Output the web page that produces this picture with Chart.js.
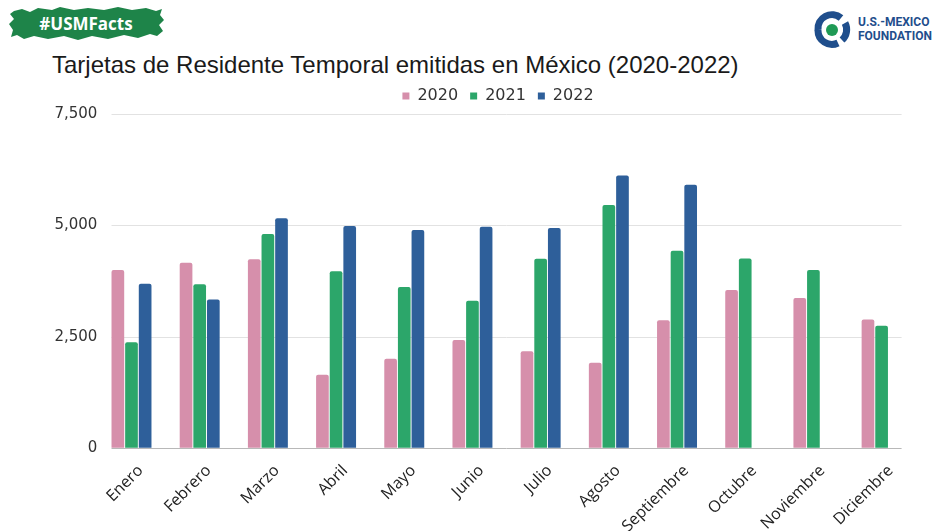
<!DOCTYPE html>
<html lang="es">
<head>
<meta charset="utf-8">
<title>Tarjetas de Residente Temporal</title>
<script src="https://cdn.jsdelivr.net/npm/chart.js@4.4.1/dist/chart.umd.min.js"></script>
<style>
  html, body { margin: 0; padding: 0; background: #fff; }
  #page { position: relative; width: 938px; height: 531px; overflow: hidden; }
  #badge { position: absolute; left: 8px; top: 6px; }
  #logo { position: absolute; left: 812px; top: 10px; }
  #logo-text {
    position: absolute; left: 858px; top: 15px;
    font: bold 12px Roboto, sans-serif; line-height: 14px;
    color: #1f4e8c;
  }
  #title {
    position: absolute; left: 52px; top: 51px;
    font: 24px "Liberation Sans", Arial, sans-serif; color: #1a1a1a;
    white-space: nowrap;
  }
  #chart { position: absolute; left: 50px; top: 76px; }
</style>
</head>
<body>
<div id="page">
  <svg id="badge" width="160" height="36" viewBox="0 0 160 36">
    <path fill="#1e8449" d="M6 5 L14 3 L22 6 L30 2 L44 4 L52 1 L66 4 L80 2 L96 4 L110 1 L124 4 L138 2 L148 5 L154 3 L152 9 L156 14 L151 19 L155 25 L149 30 L142 28 L130 32 L116 29 L100 33 L84 30 L70 34 L56 30 L40 33 L26 30 L16 33 L9 29 L3 31 L5 24 L1 18 L6 13 L2 8 Z"/>
    <text x="78" y="23.5" text-anchor="middle" fill="#fff"
          font-family="Open Sans, sans-serif" font-weight="bold" font-size="17">#USMFacts</text>
  </svg>
  <svg id="logo" width="40" height="40" viewBox="0 0 40 40">
    <path d="M29 8 A14 14 0 0 0 6 20" fill="none" stroke="#1f4e8c" stroke-width="7"/>
    <path d="M6 20 A14 14 0 0 0 26 33" fill="none" stroke="#1f4e8c" stroke-width="7"/>
    <path d="M30 30 A14 14 0 0 0 33 13" fill="none" stroke="#1f4e8c" stroke-width="7"/>
    <circle cx="20" cy="20" r="6" fill="#1f9a55"/>
  </svg>
  <div id="logo-text">U.S.-MEXICO<br>FOUNDATION</div>
  <div id="title">Tarjetas de Residente Temporal emitidas en México (2020-2022)</div>
  <canvas id="chart" width="896" height="455"></canvas>
</div>
<script>
const months = ['Enero', 'Febrero', 'Marzo', 'Abril', 'Mayo', 'Junio', 'Julio',
  'Agosto', 'Septiembre', 'Octubre', 'Noviembre', 'Diciembre'];
const years = ['2020', '2021', '2022'];
const cards2020 = [4000, 4160, 4240, 1650, 2010, 2430, 2180, 1920, 2870, 3550, 3370, 2890];
const cards2021 = [2380, 3680, 4810, 3970, 3620, 3310, 4250, 5460, 4430, 4260, 4000, 2750];
const cards2022 = [3690, 3340, 5160, 4990, 4900, 4970, 4940, 6120, 5910, null, null, null];
const yTicks = [0, 2500, 5000, 7500];
const colors = ['#d68fab', '#2ca66a', '#2e5f9a'];

const textColor = '#333333';
const baseFont = '"DejaVu Sans", sans-serif';

// horizontal guides that run only from the first bar to the last group edge
const groupGrid = {
  id: 'groupGrid',
  beforeDatasetsDraw(chart) {
    const { ctx, scales: { x, y } } = chart;
    const first = chart.getDatasetMeta(0).data[0];
    const left = first.x - first.width / 2;
    const inset = x.getPixelForValue(0) - left;
    const right = x.getPixelForValue(months.length - 1) + inset;
    ctx.save();
    y.ticks.forEach(t => {
      const py = Math.round(y.getPixelForValue(t.value)) + 0.5;
      ctx.strokeStyle = t.value === 0 ? '#b8b8b8' : '#e2e2e2';
      ctx.lineWidth = 1;
      ctx.beginPath();
      ctx.moveTo(left, py);
      ctx.lineTo(right, py);
      ctx.stroke();
    });
    ctx.restore();
  }
};

new Chart(document.getElementById('chart'), {
  type: 'bar',
  data: {
    labels: months,
    datasets: [cards2020, cards2021, cards2022].map((values, i) => ({
      label: years[i],
      data: values,
      backgroundColor: colors[i],
      borderRadius: { topLeft: 2, topRight: 2 },
      borderSkipped: 'bottom',
      barPercentage: 0.93,
      categoryPercentage: 0.6
    }))
  },
  options: {
    responsive: false,
    animation: false,
    layout: { padding: 0 },
    plugins: {
      tooltip: { enabled: false },
      legend: {
        position: 'top',
        labels: {
          boxWidth: 7,
          boxHeight: 7,
          padding: 12,
          color: textColor,
          font: { family: baseFont, size: 16 }
        }
      }
    },
    scales: {
      x: {
        offset: true,
        grid: { display: false },
        border: { display: false },
        ticks: {
          minRotation: 45,
          maxRotation: 45,
          padding: 5,
          labelOffset: 9,
          color: '#222222',
          font: { family: '"Open Sans", sans-serif', size: 16 }
        },
        afterFit(scale) { scale.height = 82.7; }
      },
      y: {
        min: 0,
        max: 7500,
        grid: { drawOnChartArea: false, drawTicks: false },
        border: { display: false },
        afterBuildTicks(scale) { scale.ticks = yTicks.map(v => ({ value: v })); },
        afterFit(scale) { scale.width = 47.4; },
        ticks: {
          padding: 0,
          color: textColor,
          font: { family: baseFont, size: 15 },
          callback: v => v.toLocaleString('en-US')
        }
      },
      // empty right-hand gutter so the legend stays centred over the bars
      gutter: {
        position: 'right',
        grid: { display: false },
        border: { display: false },
        ticks: { display: false },
        afterFit(scale) { scale.width = 30.3; }
      }
    }
  },
  plugins: [groupGrid]
});
</script>
</body>
</html>
